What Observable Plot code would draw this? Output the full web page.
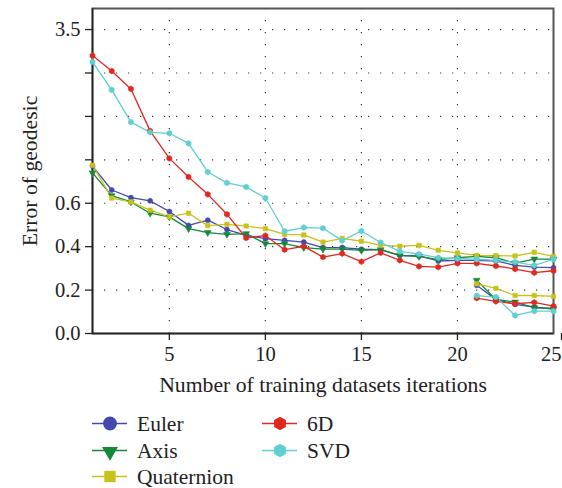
<!DOCTYPE html>
<html>
<head>
<meta charset="utf-8">
<script src="https://cdn.jsdelivr.net/npm/d3@7"></script>
<script src="https://cdn.jsdelivr.net/npm/@observablehq/plot@0.6"></script>
<style>
  body { margin: 0; background: #fff; }
  #chart { width: 562px; }
</style>
</head>
<body>
<div id="chart"></div>
<script>
// ---- data ----
const methods = ["Euler", "Axis", "Quaternion", "6D", "SVD"];
const colors = ["#4549ad", "#15883a", "#c9c21c", "#e1281e", "#5fcfd2"];
const symbols = ["circle", "triangle", "square", "hexagon", "hexagon"];

const iterations = [1,2,3,4,5,6,7,8,9,10,11,12,13,14,15,16,17,18,19,20,21,22,23,24,25];
const tailIterations = [21,22,23,24,25];

const euler = [0.771,0.661,0.626,0.611,0.562,0.498,0.522,0.479,0.452,0.437,0.429,0.421,0.396,0.396,0.388,0.386,0.360,0.357,0.334,0.337,0.337,0.334,0.314,0.306,0.303];
const axis = [0.740,0.635,0.606,0.554,0.537,0.483,0.465,0.457,0.460,0.414,0.414,0.396,0.389,0.389,0.383,0.386,0.359,0.355,0.340,0.349,0.355,0.349,0.324,0.343,0.343];
const quaternion = [0.775,0.624,0.606,0.568,0.537,0.554,0.497,0.503,0.495,0.483,0.457,0.454,0.421,0.438,0.425,0.406,0.402,0.406,0.383,0.371,0.360,0.359,0.357,0.374,0.355];
const sixD = [2.96,2.64,2.27,1.40,0.83,0.721,0.641,0.549,0.440,0.451,0.386,0.401,0.352,0.368,0.331,0.372,0.337,0.309,0.306,0.323,0.323,0.311,0.297,0.280,0.289];
const svd = [2.83,2.25,1.58,1.37,1.35,1.14,0.744,0.694,0.675,0.624,0.471,0.488,0.485,0.428,0.472,0.419,0.378,0.366,0.349,0.345,0.342,0.337,0.329,0.314,0.342];

const eulerTail = [0.222,0.157,0.134,0.121,0.114];
const axisTail = [0.245,0.157,0.145,0.119,0.114];
const quaternionTail = [0.229,0.208,0.175,0.175,0.171];
const sixDTail = [0.163,0.148,0.137,0.143,0.126];
const svdTail = [0.174,0.168,0.083,0.103,0.103];

// broken y axis: real tick values and their labels
const yTickValues = [0, 0.2, 0.4, 0.6, 0.8, 1.7, 2.6, 3.5];
const yTickLabels = ["0.0", "0.2", "0.4", "0.6", "", "", "", "3.5"];
const xTickValues = [5, 10, 15, 20];
const xLastTick = [25];
const xGridValues = [5, 10, 15, 20];
const xLabel = "Number of training datasets iterations";
const yLabel = "Error of geodesic";

// ---- build table ----
const mainSeries = [euler, axis, quaternion, sixD, svd];
const tailSeries = [eulerTail, axisTail, quaternionTail, sixDTail, svdTail];
const rows = [];
methods.forEach((m, i) => {
  iterations.forEach((it, j) => rows.push({method: m, seg: "a", x: it, value: mainSeries[i][j]}));
  tailIterations.forEach((it, j) => rows.push({method: m, seg: "b", x: it, value: tailSeries[i][j]}));
});

// piecewise mapping for the broken axis (upper part compressed)
const brk = 0.8;
const f = v => v <= brk ? v : brk + (v - brk) * (0.6 / 2.7);
const tickPos = yTickValues.map(f);
const labelAt = new Map(tickPos.map((p, i) => [p, yTickLabels[i]]));

const font = "'Liberation Serif', 'DejaVu Serif', serif";
const grid = {stroke: "#222", strokeOpacity: 0.9, strokeWidth: 1.2, strokeDasharray: "1.2,10.8"};
const xAxisOpts = {tickSize: 7, tickPadding: 6, tickFormat: d => String(d), label: null, stroke: "#222", strokeWidth: 1.3, fontSize: 20.5};

const plot = Plot.plot({
  width: 562,
  height: 400,
  marginLeft: 92,
  marginRight: 9,
  marginTop: 8,
  marginBottom: 67,
  style: {fontFamily: font, fontSize: "20px", color: "#222", background: "#fff"},
  x: {domain: [1, 25]},
  y: {domain: [0, 1.497]},
  color: {domain: methods, range: colors},
  symbol: {domain: methods, range: symbols},
  marks: [
    Plot.gridY(tickPos.filter(p => p > 0), grid),
    Plot.gridX(xGridValues, grid),
    Plot.frame({stroke: "#555", strokeWidth: 2}),
    Plot.ruleX([1], {stroke: "#222", strokeWidth: 1.5}),
    Plot.ruleY([0], {stroke: "#222", strokeWidth: 1.5}),
    Plot.axisY(tickPos, {tickSize: 7, tickPadding: 5, tickFormat: p => labelAt.get(p), label: null, stroke: "#222", strokeWidth: 1.3, fontSize: 20.5}),
    Plot.axisX(xTickValues, xAxisOpts),
    Plot.axisX(xLastTick, {...xAxisOpts, textAnchor: "end", dx: 8}),
    Plot.line(rows, {x: "x", y: d => f(d.value), z: d => d.method + d.seg, stroke: "method", strokeWidth: 1.3}),
    Plot.dot(rows, {x: "x", y: d => f(d.value), fill: "method", stroke: "method", strokeWidth: 0.6, symbol: "method", r: 2.5, rotate: d => d.method === "Axis" ? 180 : 0}),
    Plot.text([yLabel], {frameAnchor: "left", textAnchor: "middle", lineAnchor: "middle", rotate: -90, dx: -62, fontSize: 21.7, fill: "#222"}),
    Plot.text([xLabel], {frameAnchor: "bottom", textAnchor: "middle", lineAnchor: "middle", dy: 52, fontSize: 21.7, fill: "#222"})
  ]
});
document.getElementById("chart").appendChild(plot);

// ---- legend below the plot ----
const legendItems = methods.map((m, i) => ({method: m, color: colors[i], symbol: symbols[i]}));
const legendPos = [[92, 23.5], [92, 50.5], [92, 76.5], [262, 23.5], [262, 50.5]];
const lsvg = d3.select("#chart").append("svg")
  .attr("width", 562).attr("height", 88)
  .style("display", "block")
  .style("font-family", font).style("font-size", "21.5px");
function hexPath(r) {
  const pts = d3.range(6).map(k => {
    const a = Math.PI / 6 + k * Math.PI / 3;
    return [r * Math.cos(a), r * Math.sin(a)];
  });
  return "M" + pts.map(p => p.join(",")).join("L") + "Z";
}
legendItems.forEach((it, i) => {
  const [x0, y0] = legendPos[i];
  const g = lsvg.append("g").attr("transform", `translate(${x0},${y0})`);
  g.append("line").attr("x1", 0).attr("x2", 35).attr("y1", 0).attr("y2", 0)
    .attr("stroke", it.color).attr("stroke-width", 1.5);
  let path;
  if (it.symbol === "circle") path = d3.symbol(d3.symbolCircle, 150)();
  else if (it.symbol === "triangle") path = d3.symbol(d3.symbolTriangle, 110)();
  else if (it.symbol === "square") path = d3.symbol(d3.symbolSquare, 130)();
  else path = hexPath(6.8);
  g.append("path").attr("d", path).attr("fill", it.color)
    .attr("transform", `translate(18,${it.symbol === "triangle" ? 1 : 0}) rotate(${it.symbol === "triangle" ? 180 : 0})`);
  g.append("text").attr("x", 45).attr("y", 0).attr("dy", "0.35em")
    .attr("fill", "#222").text(it.method);
});
</script>
</body>
</html>
